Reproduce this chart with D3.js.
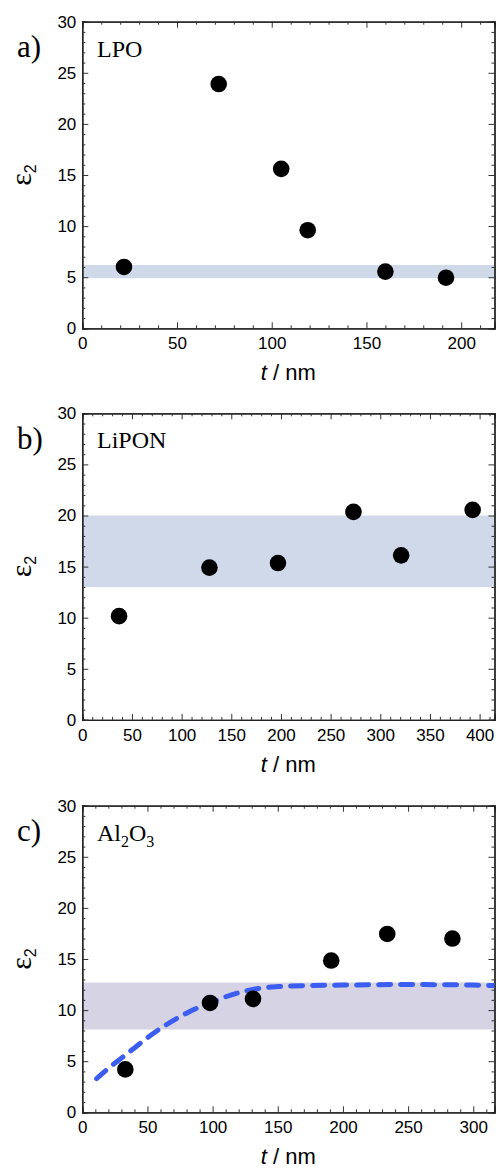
<!DOCTYPE html>
<html lang="en">
  <head>
    <meta charset="UTF-8" />
    <title>eps2 vs thickness</title>
    <script src="https://d3js.org/d3.v7.min.js"></script>
    <style>
      body { margin: 0; background: #fff; }
      .tick text { font-family: "Liberation Sans", Arial, sans-serif; font-size: 17px; fill: #000; }
    </style>
  </head>

  <body>
    <svg width="496" height="1168"></svg>
    <script>
      // panel a) LPO
      const lpoT = [22, 72, 105, 119, 160, 192];
      const lpoEps = [6.0, 23.9, 15.6, 9.6, 5.55, 4.95];
      const lpoBand = [4.9, 6.2];

      // panel b) LiPON
      const liponT = [37, 128, 197, 273, 321, 393];
      const liponEps = [10.15, 14.9, 15.35, 20.35, 16.1, 20.55];
      const liponBand = [13.0, 20.0];

      // panel c) Al2O3
      const aloT = [33, 98, 131, 191, 234, 284];
      const aloEps = [4.2, 10.7, 11.1, 14.85, 17.45, 17.0];
      const aloBand = [8.1, 12.7];
      const fitT = [11, 20, 30, 40, 50, 60, 70, 80, 90, 100, 110, 120, 130, 140, 150, 175, 200, 250, 300, 317];
      const fitEps = [3.3, 4.3, 5.3, 6.3, 7.3, 8.2, 9.0, 9.7, 10.3, 10.8, 11.3, 11.7, 12.0, 12.2, 12.3, 12.4, 12.45, 12.5, 12.45, 12.4];

      const xMajor = [0, 50, 100, 150, 200, 250, 300, 350, 400];
      const yMajor = [0, 5, 10, 15, 20, 25, 30];

      const svg = d3.select("svg");
      const left = 82.3, right = 494.5, plotH = 306.6;

      const panels = [
        { top: 21.7, xmax: 217.6, letter: "a)", band: lpoBand, bandColor: "#cfd9ea", t: lpoT, eps: lpoEps },
        { top: 413.3, xmax: 415, letter: "b)", band: liponBand, bandColor: "#cfd9ea", t: liponT, eps: liponEps },
        { top: 805.7, xmax: 316.3, letter: "c)", band: aloBand, bandColor: "#d6d3e4", t: aloT, eps: aloEps, fit: true }
      ];

      panels.forEach((p, i) => {
        const g = svg.append("g").attr("transform", "translate(" + left + "," + p.top + ")");
        const w = right - left;
        const x = d3.scaleLinear().domain([0, p.xmax]).range([0, w]);
        const y = d3.scaleLinear().domain([0, 30]).range([plotH, 0]);

        const clipId = "clip" + i;
        g.append("clipPath").attr("id", clipId)
          .append("rect").attr("width", w).attr("height", plotH);

        // shaded band
        g.append("rect")
          .attr("x", 0)
          .attr("width", w)
          .attr("y", y(p.band[1]))
          .attr("height", y(p.band[0]) - y(p.band[1]))
          .attr("fill", p.bandColor);

        const xMaj = xMajor.filter((v) => v <= p.xmax);
        const xMin = d3.range(0, p.xmax, 10).filter((v) => v % 50 !== 0);
        const yMin = d3.range(0, 30, 1).filter((v) => v % 5 !== 0);

        // bottom
        g.append("g").attr("transform", "translate(0," + plotH + ")")
          .call(d3.axisBottom(x).tickValues(xMaj).tickSize(-6).tickPadding(9).tickFormat(d3.format("d")));
        g.append("g").attr("transform", "translate(0," + plotH + ")")
          .call(d3.axisBottom(x).tickValues(xMin).tickSize(-3).tickFormat(""));
        // top
        g.append("g").call(d3.axisTop(x).tickValues(xMaj).tickSize(-6).tickFormat(""));
        g.append("g").call(d3.axisTop(x).tickValues(xMin).tickSize(-3).tickFormat(""));
        // left
        g.append("g")
          .call(d3.axisLeft(y).tickValues(yMajor).tickSize(-6).tickPadding(6).tickFormat(d3.format("d")));
        g.append("g").call(d3.axisLeft(y).tickValues(yMin).tickSize(-3).tickFormat(""));
        // right
        g.append("g").attr("transform", "translate(" + w + ",0)")
          .call(d3.axisRight(y).tickValues(yMajor).tickSize(-6).tickFormat(""));
        g.append("g").attr("transform", "translate(" + w + ",0)")
          .call(d3.axisRight(y).tickValues(yMin).tickSize(-3).tickFormat(""));

        g.selectAll(".domain").attr("stroke", "#222").attr("stroke-width", 1.3);
        g.selectAll(".tick line").attr("stroke", "#333").attr("stroke-width", 1);

        // fit curve
        if (p.fit) {
          const line = d3.line()
            .x((d, k) => x(fitT[k]))
            .y((d) => y(d))
            .curve(d3.curveMonotoneX);
          g.append("path")
            .datum(fitEps)
            .attr("clip-path", "url(#" + clipId + ")")
            .attr("fill", "none")
            .attr("stroke", "#3b5ef0")
            .attr("stroke-width", 5)
            .attr("stroke-linecap", "round")
            .attr("stroke-dasharray", "12,10")
            .attr("d", line);
        }

        // points
        g.selectAll("circle.pt")
          .data(p.t)
          .join("circle")
          .attr("class", "pt")
          .attr("cx", (d) => x(d))
          .attr("cy", (d, k) => y(p.eps[k]))
          .attr("r", 8.3)
          .attr("fill", "#000");

        // panel letter
        svg.append("text")
          .attr("x", 17)
          .attr("y", p.top + 35.5)
          .attr("font-family", "Liberation Serif, Times New Roman, serif")
          .attr("font-size", 31)
          .text(p.letter);

        // material label
        const lab = svg.append("text")
          .attr("x", 97)
          .attr("y", p.top + 35)
          .attr("font-family", "Liberation Serif, Times New Roman, serif")
          .attr("font-size", 24);
        if (i === 0) lab.text("LPO");
        else if (i === 1) lab.text("LiPON");
        else {
          lab.append("tspan").text("Al");
          lab.append("tspan").attr("font-size", 16).attr("dy", 6).text("2");
          lab.append("tspan").attr("dy", -6).text("O");
          lab.append("tspan").attr("font-size", 16).attr("dy", 6).text("3");
        }

        // y label
        const yl = svg.append("text")
          .attr("transform", "translate(31," + (p.top + plotH / 2) + ") rotate(-90)")
          .attr("text-anchor", "middle")
          .attr("font-family", "Liberation Serif, Times New Roman, serif")
          .attr("font-size", 30);
        yl.append("tspan").text("\u03b5");
        yl.append("tspan").attr("font-family", "Liberation Sans, Arial, sans-serif")
          .attr("font-size", 16).attr("dy", 5).text("2");

        // x label
        const xl = svg.append("text")
          .attr("x", left + 206)
          .attr("y", p.top + plotH + 52)
          .attr("text-anchor", "middle")
          .attr("font-family", "Liberation Sans, Arial, sans-serif")
          .attr("font-size", 22);
        xl.append("tspan").attr("font-style", "italic").text("t");
        xl.append("tspan").text(" / nm");
      });
    </script>
  </body>
</html>
